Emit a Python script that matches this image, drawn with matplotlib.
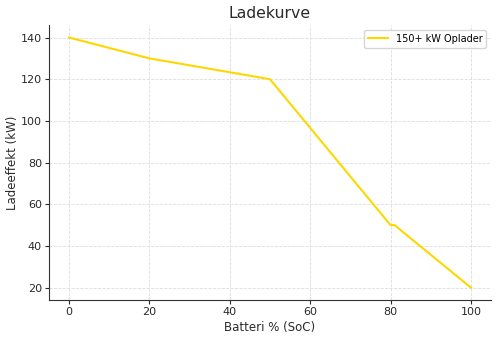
import numpy as np
import matplotlib.pyplot as plt

soc = [0, 20, 50, 80, 81, 100]
power = [140, 130, 120, 50, 50, 20]
label = '150+ kW Oplader'

fig, ax = plt.subplots(figsize=(4.99, 3.38), dpi=100)
ax.plot(soc, power, color='gold', linewidth=1.5, label=label)

ax.set_title('Ladekurve', fontsize=11.3, color='#2a2a2a', pad=5)
ax.set_xlabel('Batteri % (SoC)', fontsize=8.5, color='#2a2a2a', labelpad=3)
ax.set_ylabel('Ladeeffekt (kW)', fontsize=8.5, color='#2a2a2a', labelpad=1)
ax.grid(True, linestyle='--', color='#dddddd', linewidth=0.6)
ax.spines['top'].set_visible(False)
ax.spines['right'].set_visible(False)
for s in ['left', 'bottom']:
    ax.spines[s].set_color('#333333')
ax.tick_params(colors='#2a2a2a', labelsize=8, length=3, pad=2)
ax.legend(loc='upper right', fontsize=7)

fig.subplots_adjust(left=0.098, right=0.984, top=0.926, bottom=0.112)
plt.savefig('out.png')
